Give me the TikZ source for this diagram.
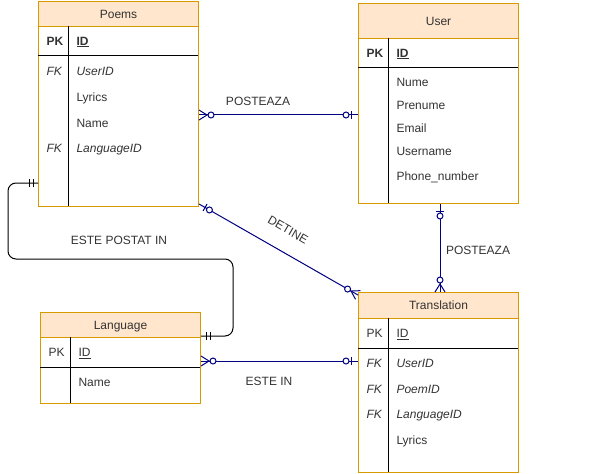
\documentclass[tikz,border=0pt]{standalone}
\usepackage{fontspec}
\setmainfont{Liberation Sans}
\usetikzlibrary{calc}

\definecolor{erorange}{RGB}{215,155,0}
\definecolor{erfill}{RGB}{255,230,204}
\definecolor{erblue}{RGB}{0,0,128}
\definecolor{ertext}{RGB}{51,51,51}

% ends of a relation: #2 is the point on the table, #3 a point of the line
\newcommand{\erZeroMany}[3][erblue]{%
  \draw[#1] ($(#2)!5pt!90:(#3)$) -- ($(#2)!8pt!(#3)$) -- ($(#2)!5pt!-90:(#3)$);%
  \draw[#1,fill=white] ($(#2)!12pt!(#3)$) circle (3pt);%
}
\newcommand{\erZeroOne}[3][erblue]{%
  \draw[#1] ($(#2)!7pt!(#3)!4pt!90:(#3)$) -- ($(#2)!7pt!(#3)!4pt!-90:(#3)$);%
  \draw[#1,fill=white] ($(#2)!12pt!(#3)$) circle (3pt);%
}
\newcommand{\erOneOne}[3][black]{%
  \draw[#1] ($(#2)!5pt!(#3)!4pt!90:(#3)$) -- ($(#2)!5pt!(#3)!4pt!-90:(#3)$);%
  \draw[#1] ($(#2)!9pt!(#3)!4pt!90:(#3)$) -- ($(#2)!9pt!(#3)!4pt!-90:(#3)$);%
}

\begin{document}
\begin{tikzpicture}[x=1pt,y=-1pt,line width=1pt,
  every node/.style={font=\fontsize{12}{14}\selectfont,text=ertext},
  tablebox/.style={draw=erorange,minimum width=160,minimum height=#1,inner sep=0,anchor=north west},
  tablehead/.style={tablebox=#1,fill=erfill,text height=8.6,text depth=0},
  field/.style={anchor=west,inner sep=0,text height=8.6,text depth=0},
  erconn/.style={draw=erblue}]
\useasboundingbox (0,0) rectangle (593,473);

% Table Poems
\node[tablebox=205] (poems) at (38,1) {};
\node[tablehead=25] (poemsHead) at (38,1) {Poems};
\draw (38,56) -- (198,56);
\draw (68,26) -- (68,206);
\node[field] (poemsPK) at (46,41) {\textbf{PK}};
\node[field] (poemsID) at (76,41) {\textbf{\underline{ID}}};
\node[field] (poemsFK1) at (46,71) {\textit{FK}};
\node[field] (poemsUser) at (76,71) {\textit{UserID}};
\node[field] (poemsLyrics) at (76,97) {Lyrics};
\node[field] (poemsName) at (76,123) {Name};
\node[field] (poemsFK2) at (46,148) {\textit{FK}};
\node[field] (poemsLang) at (76,148) {\textit{LanguageID}};

% Table User
\node[tablebox=200] (user) at (358,3) {};
\node[tablehead=35] (userHead) at (358,3) {User};
\draw (358,68) -- (518,68);
\draw (388,38) -- (388,203);
\node[field] (userPK) at (366,53) {\textbf{PK}};
\node[field] (userID) at (396,53) {\textbf{\underline{ID}}};
\node[field] (userNume) at (396,82) {Nume};
\node[field] (userPrenume) at (396,105) {Prenume};
\node[field] (userEmail) at (396,128) {Email};
\node[field] (userUsername) at (396,151) {Username};
\node[field] (userPhone) at (396,176) {Phone\_number};

% Table Translation
\node[tablebox=180] (translation) at (358,292) {};
\node[tablehead=26] (translationHead) at (358,292) {Translation};
\draw (358,348) -- (518,348);
\draw (388,318) -- (388,472);
\node[field] (transPK) at (366,333) {PK};
\node[field] (transID) at (396,333) {\underline{ID}};
\node[field] (transFK1) at (366,363) {\textit{FK}};
\node[field] (transUser) at (396,363) {\textit{UserID}};
\node[field] (transFK2) at (366,389) {\textit{FK}};
\node[field] (transPoem) at (396,389) {\textit{PoemID}};
\node[field] (transFK3) at (366,414) {\textit{FK}};
\node[field] (transLang) at (396,414) {\textit{LanguageID}};
\node[field] (transLyrics) at (396,440) {Lyrics};

% Table Language
\node[tablebox=91] (language) at (40,312) {};
\node[tablehead=25] (languageHead) at (40,312) {Language};
\draw (40,367) -- (200,367);
\draw (70,337) -- (70,403);
\node[field] (langPK) at (48,352) {PK};
\node[field] (langID) at (78,352) {\underline{ID}};
\node[field] (langName) at (78,382) {Name};

% Relation Poems - User
\coordinate (poemsR) at (poems.east |- 0,115);
\coordinate (userL) at (user.west |- 0,115);
\draw[erconn] (poemsR) -- (userL);
\erZeroMany{poemsR}{userL}
\erZeroOne{userL}{poemsR}
\node (lblPostPoem) at (258,101) {POSTEAZA};

% Relation Poems - Translation
\coordinate (poemsC) at ($(poems.south east)+(0,-3)$);
\coordinate (transC) at ($(translation.north west)+(0,3)$);
\draw[erconn] (poemsC) -- (transC);
\erZeroOne{poemsC}{transC}
\erZeroMany{transC}{poemsC}
\node[rotate=-30] (lblDetine) at (288,230) {DETINE};

% Relation User - Translation
\coordinate (userB) at (user.south -| 440,0);
\coordinate (transT) at (translation.north -| 440,0);
\draw[erconn] (userB) -- (transT);
\erZeroOne{userB}{transT}
\erZeroMany{transT}{userB}
\node (lblPostTrans) at (478,250) {POSTEAZA};

% Relation Poems - Language
\coordinate (poemsL) at (poems.west |- 0,183);
\coordinate (langR) at (language.east |- 0,336);
\coordinate (bendA) at (8,183);
\coordinate (bendB) at (233,336);
\draw[rounded corners=8] (poemsL) -- (bendA) -- (8,259) -- (233,259) -- (bendB) -- (langR);
\erOneOne{poemsL}{bendA}
\erOneOne{langR}{bendB}
\node (lblPostatIn) at (119,240) {ESTE POSTAT IN};

% Relation Language - Translation
\coordinate (langE) at (language.east |- 0,361);
\coordinate (transW) at (translation.west |- 0,361);
\draw[erconn] (langE) -- (transW);
\erZeroMany{langE}{transW}
\erZeroOne{transW}{langE}
\node (lblEsteIn) at (269,381) {ESTE IN};
\end{tikzpicture}
\end{document}
